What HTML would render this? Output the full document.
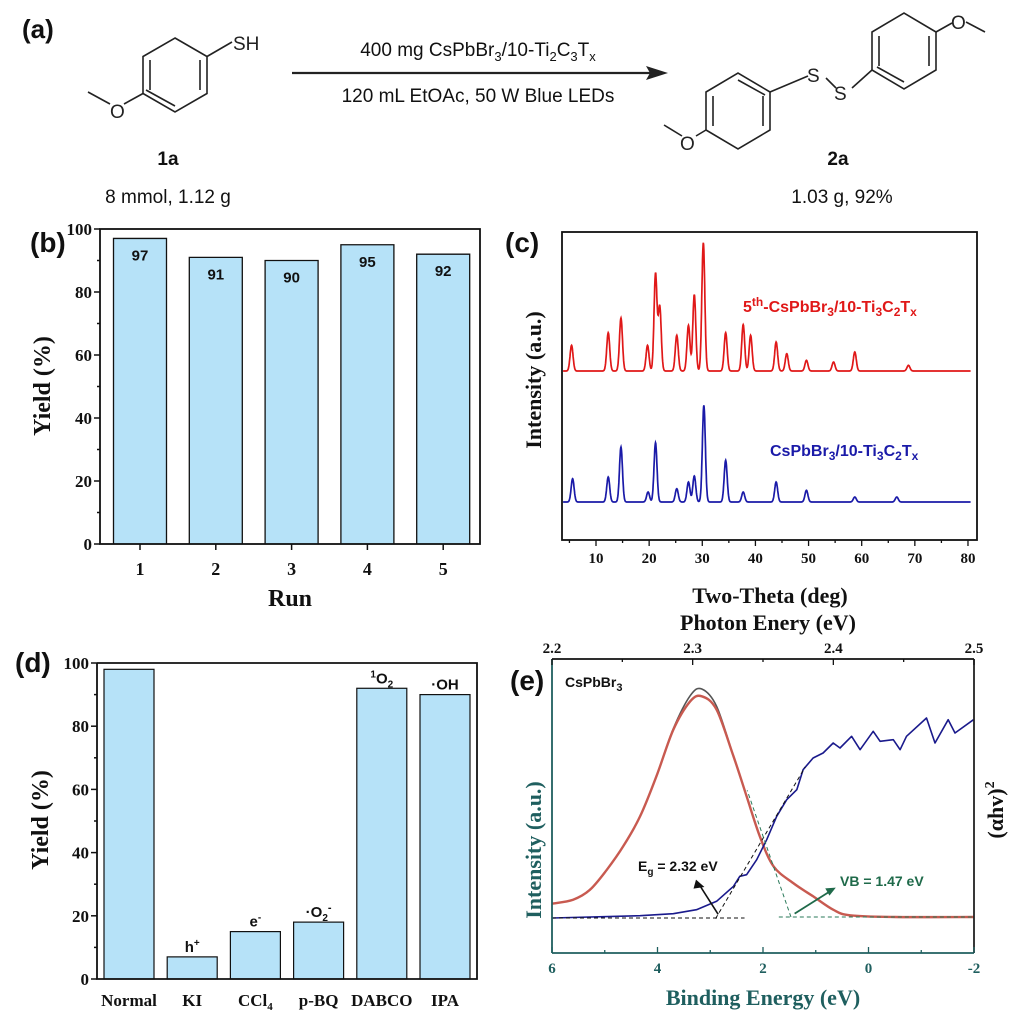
<!DOCTYPE html>
<html><head><meta charset="utf-8"><style>
html,body{margin:0;padding:0;background:#fff;}
svg{display:block;}
.sans{font-family:"Liberation Sans",sans-serif;}
.serif{font-family:"Liberation Serif",serif;font-weight:bold;}
</style></head><body>
<svg id="fig" width="1017" height="1021" viewBox="0 0 1017 1021" xmlns="http://www.w3.org/2000/svg">
<g stroke="#222" stroke-width="1.6" fill="none">
<text x="22" y="38" class="sans" font-size="26" font-weight="bold" fill="#111" stroke="none">(a)</text>
<polygon points="175,38 207,56.5 207,93.5 175,112 143,93.5 143,56.5"/>
<line x1="150" y1="60" x2="150" y2="90"/><line x1="200" y1="60" x2="200" y2="90"/><line x1="175" y1="106" x2="146" y2="90"/>
<line x1="207" y1="56.5" x2="232" y2="42"/>
<line x1="143" y1="93.5" x2="124" y2="104"/><line x1="110" y1="104" x2="88" y2="92"/>
<text x="233" y="50" class="sans" font-size="19" fill="#222" stroke="none">SH</text>
<text x="110" y="118" class="sans" font-size="19" fill="#222" stroke="none">O</text>
<text x="168" y="165" class="sans" font-size="19" font-weight="bold" fill="#111" stroke="none" text-anchor="middle">1a</text>
<text x="168" y="203" class="sans" font-size="19" fill="#111" stroke="none" text-anchor="middle">8 mmol, 1.12 g</text>
<line x1="292" y1="73" x2="652" y2="73" stroke-width="2.2"/>
<polygon points="668,73 646,66 650,73 646,80" fill="#222" stroke="none"/>
<text x="478" y="56" class="sans" font-size="19" fill="#111" stroke="none" text-anchor="middle">400 mg CsPbBr<tspan font-size="13" dy="5">3</tspan><tspan dy="-5">/10-Ti</tspan><tspan font-size="13" dy="5">2</tspan><tspan dy="-5">C</tspan><tspan font-size="13" dy="5">3</tspan><tspan dy="-5">T</tspan><tspan font-size="13" dy="5">x</tspan></text>
<text x="478" y="102" class="sans" font-size="19" fill="#111" stroke="none" text-anchor="middle">120 mL EtOAc, 50 W Blue LEDs</text>
<g>
<polygon points="770,92 770,130 738,149 706,130 706,92 738,73"/>
<line x1="763" y1="96" x2="763" y2="126"/><line x1="713" y1="96" x2="713" y2="126"/><line x1="738" y1="80" x2="765" y2="95"/>
<line x1="770" y1="92" x2="808" y2="76"/><line x1="826" y1="78" x2="836" y2="88"/><line x1="852" y1="88" x2="872" y2="70"/>
<polygon points="872,70 872,32 904,13 936,32 936,70 904,89"/>
<line x1="879" y1="36" x2="879" y2="66"/><line x1="929" y1="36" x2="929" y2="66"/><line x1="904" y1="82" x2="877" y2="67"/>
<line x1="936" y1="32" x2="952" y2="23"/><line x1="966" y1="22" x2="985" y2="32"/>
<line x1="706" y1="130" x2="696" y2="136"/><line x1="682" y1="136" x2="664" y2="125"/>
<text x="807" y="82" class="sans" font-size="19" fill="#222" stroke="none">S</text>
<text x="834" y="100" class="sans" font-size="19" fill="#222" stroke="none">S</text>
<text x="951" y="29" class="sans" font-size="19" fill="#222" stroke="none">O</text>
<text x="680" y="150" class="sans" font-size="19" fill="#222" stroke="none">O</text>
</g>
<text x="838" y="165" class="sans" font-size="19" font-weight="bold" fill="#111" stroke="none" text-anchor="middle">2a</text>
<text x="842" y="203" class="sans" font-size="19" fill="#111" stroke="none" text-anchor="middle">1.03 g, 92%</text>
</g>
</svg>
<script>
// ---------- data ----------
const runs = ['1','2','3','4','5'];
const runYields = [97, 91, 90, 95, 92];
const yieldTicks = [0, 20, 40, 60, 80, 100];
const scavengers = ['Normal','KI','CCl4','p-BQ','DABCO','IPA'];
const scavYields = [98, 7, 15, 18, 92, 90];
const scavSpecies = ['', 'h+', 'e-', '·O2-', '1O2', '·OH'];
const thetaTicks = [10, 20, 30, 40, 50, 60, 70, 80];
const redPeakPos = [5.4,12.3,14.7,19.7,21.2,22.0,25.2,27.4,28.5,30.2,34.4,37.7,39.1,43.9,45.9,49.6,54.7,58.7,68.8];
const redPeakH   = [77,115,159,77,292,192,107,137,229,385,115,139,107,87,52,32,27,57,17];
const bluePeakPos = [5.6,12.3,14.7,19.8,21.2,25.2,27.4,28.5,30.3,34.4,37.7,43.9,49.6,58.7,66.6];
const bluePeakH   = [70,75,165,30,178,40,60,78,290,125,30,60,35,15,15];
const redOffset = 507, blueOffset = 114;
const beTicks = [6, 4, 2, 0, -2];
const photonTicks = [2.2, 2.3, 2.4, 2.5];
const plBE  = [6.0,5.6,5.28,4.96,4.65,4.33,4.02,3.70,3.38,3.16,2.88,2.56,2.31,2.06,1.80,1.43,1.05,0.67,0.35,-0.5,-1.99];
const plI   = [40,52,82,142,212,302,422,562,647,662,622,482,362,242,152,102,62,22,5,0,0];
const fitBE = [6.0,5.6,5.28,4.96,4.65,4.33,4.02,3.70,3.38,3.16,2.88,2.56,2.31,2.06,1.80,1.43,1.05,0.67,0.35,-0.5,-1.99];
const fitI  = [40,52,82,142,212,302,422,565,664,684,632,482,362,242,152,102,62,22,5,0,0];
const absBE = [5.99,4.33,3.70,3.26,2.88,2.56,2.44,2.31,2.12,1.93,1.74,1.55,1.36,1.24,1.05,0.86,0.67,0.54,0.32,0.16,-0.09,-0.22,-0.47,-0.60,-0.72,-1.10,-1.26,-1.51,-1.64,-1.99];
const absI  = [-3,4,10,22,47,92,122,127,172,232,302,352,382,442,477,492,522,507,542,502,557,527,532,502,542,597,522,592,552,592];

const NS = 'http://www.w3.org/2000/svg';
const svg = document.getElementById('fig');
function add(tag, attrs, name, parent, interact) {
  const el = document.createElementNS(NS, tag);
  for (const k in attrs) el.setAttribute(k, attrs[k]);
  
  
  (parent || svg).appendChild(el);
  return el;
}
function txt(s, x, y, cls, size, name, extra, parent) {
  const a = Object.assign({x:x, y:y, class:cls, 'font-size':size, fill:'#111'}, extra || {});
  const t = add('text', a, name, parent);
  t.textContent = s;
  return t;
}
function smoothPath(pts){
  let d = 'M'+pts[0][0].toFixed(1)+','+pts[0][1].toFixed(1);
  for (let i=0;i<pts.length-1;i++){
    const p0=pts[Math.max(0,i-1)], p1=pts[i], p2=pts[i+1], p3=pts[Math.min(pts.length-1,i+2)];
    const c1=[p1[0]+(p2[0]-p0[0])/6, p1[1]+(p2[1]-p0[1])/6];
    const c2=[p2[0]-(p3[0]-p1[0])/6, p2[1]-(p3[1]-p1[1])/6];
    d += 'C'+c1[0].toFixed(1)+','+c1[1].toFixed(1)+' '+c2[0].toFixed(1)+','+c2[1].toFixed(1)+' '+p2[0].toFixed(1)+','+p2[1].toFixed(1);
  }
  return d;
}

// ---------- panel b ----------
(function(){
  const g = add('g', {}, 'panel-b-run-chart');
  const L=100,R=480,T=229,B=544;
  const y = v => B - (B-T)*v/100;
  const x = i => 140 + i*75.8;
  txt('(b)', 30, 252, 'sans', 28, 'panel-b-label', {'font-weight':'bold'}, g);
  runYields.forEach((v,i)=>{
    add('rect', {x:x(i)-26.5, y:y(v), width:53, height:B-y(v), fill:'#b6e2f8'}, 'bar-run-'+runs[i], g);
    add('path', {d:`M${x(i)-26.5},${B} V${y(v)} H${x(i)+26.5} V${B}`, fill:'none', stroke:'#111', 'stroke-width':1.3}, 'bar-outline-run-'+runs[i], g);
    txt(String(v), x(i), y(v)+22, 'sans', 15, 'bar-value-run-'+runs[i], {'font-weight':'bold','text-anchor':'middle'}, g);
    add('line', {x1:x(i), y1:B, x2:x(i), y2:B+6, stroke:'#111','stroke-width':1.5}, 'x-tick', g);
    txt(runs[i], x(i), B+31, 'serif', 18, 'x-tick-label', {'text-anchor':'middle'}, g);
  });
  for (let k=0;k<=10;k++){
    add('line', {x1:L, y1:y(k*10), x2:L-(k%2?3:6), y2:y(k*10), stroke:'#111','stroke-width':1.5}, 'y-tick', g);
  }
  yieldTicks.forEach(v=> txt(String(v), L-8, y(v)+6, 'serif', 17, 'y-tick-label', {'text-anchor':'end'}, g));
  add('rect', {x:L, y:T, width:R-L, height:B-T, fill:'none', stroke:'#111','stroke-width':1.8}, 'plot-frame-b', g);
  txt('Run', 290, 606, 'serif', 24, 'x-axis-title-b', {'text-anchor':'middle'}, g);
  txt('Yield (%)', 0, 0, 'serif', 24, 'y-axis-title-b', {'text-anchor':'middle', transform:'translate(50,386) rotate(-90)'}, g);
})();

// ---------- panel c ----------
(function(){
  const g = add('g', {}, 'panel-c-xrd-chart');
  const L=562,R=977,T=232,B=540;
  const x = d => 596 + (d-10)*5.314;
  const y = I => B - I/3;
  txt('(c)', 505, 252, 'sans', 28, 'panel-c-label', {'font-weight':'bold'}, g);
  function series(pos, h, off, color, name){
    let d='';
    for (let t=3.8; t<=80.5; t+=0.05){
      let I = off;
      for (let k=0;k<pos.length;k++){ const z=(t-pos[k])/0.28; I += h[k]*Math.exp(-0.5*z*z); }
      d += (d?'L':'M') + x(t).toFixed(1)+','+y(I).toFixed(1);
    }
    add('path', {d:d, fill:'none', stroke:color, 'stroke-width':1.7}, name, g);
  }
  series(redPeakPos, redPeakH, redOffset, '#e01818', 'xrd-line-5th-cycle');
  series(bluePeakPos, bluePeakH, blueOffset, '#1a1aa8', 'xrd-line-fresh');
  for (let d=5; d<=80; d+=5){
    add('line', {x1:x(d), y1:B, x2:x(d), y2:B+(d%10?3:6), stroke:'#111','stroke-width':1.3}, 'x-tick', g);
  }
  thetaTicks.forEach(d=> txt(String(d), x(d), B+23, 'serif', 15, 'x-tick-label', {'text-anchor':'middle'}, g));
  add('rect', {x:L, y:T, width:R-L, height:B-T, fill:'none', stroke:'#111','stroke-width':1.8}, 'plot-frame-c', g);
  txt('Two-Theta (deg)', 770, 603, 'serif', 22, 'x-axis-title-c', {'text-anchor':'middle'}, g);
  txt('Intensity (a.u.)', 0, 0, 'serif', 22, 'y-axis-title-c', {'text-anchor':'middle', transform:'translate(541,380) rotate(-90)'}, g);
  const l1 = txt('', 743, 312, 'sans', 16, 'legend-5th-cycle', {'font-weight':'bold', fill:'#e01818'}, g);
  l1.innerHTML = '5<tspan font-size="12" dy="-6">th</tspan><tspan dy="6">-CsPbBr</tspan><tspan font-size="12" dy="4">3</tspan><tspan dy="-4">/10-Ti</tspan><tspan font-size="12" dy="4">3</tspan><tspan dy="-4">C</tspan><tspan font-size="12" dy="4">2</tspan><tspan dy="-4">T</tspan><tspan font-size="12" dy="4">x</tspan>';
  const l2 = txt('', 770, 456, 'sans', 16, 'legend-fresh', {'font-weight':'bold', fill:'#1a1aa8'}, g);
  l2.innerHTML = 'CsPbBr<tspan font-size="12" dy="4">3</tspan><tspan dy="-4">/10-Ti</tspan><tspan font-size="12" dy="4">3</tspan><tspan dy="-4">C</tspan><tspan font-size="12" dy="4">2</tspan><tspan dy="-4">T</tspan><tspan font-size="12" dy="4">x</tspan>';
})();

// ---------- panel d ----------
(function(){
  const g = add('g', {}, 'panel-d-scavenger-chart');
  const L=97,R=477,T=663,B=979;
  const y = v => B - (B-T)*v/100;
  const x = i => 129 + i*63.2;
  txt('(d)', 15, 672, 'sans', 28, 'panel-d-label', {'font-weight':'bold'}, g);
  scavYields.forEach((v,i)=>{
    add('rect', {x:x(i)-25, y:y(v), width:50, height:B-y(v), fill:'#b6e2f8', stroke:'#111','stroke-width':1.2}, 'bar-'+scavengers[i], g);
    if (scavSpecies[i]) {
      const s = scavSpecies[i];
      const t = txt('', x(i), y(v)-5, 'sans', 15, 'species-label-'+scavengers[i], {'font-weight':'bold','text-anchor':'middle'}, g);
      if (s==='h+') t.innerHTML='h<tspan font-size="10" dy="-6">+</tspan>';
      else if (s==='e-') t.innerHTML='e<tspan font-size="10" dy="-6">-</tspan>';
      else if (s==='·O2-') t.innerHTML='·O<tspan font-size="10" dy="4">2</tspan><tspan font-size="11" dy="-10">-</tspan>';
      else if (s==='1O2') t.innerHTML='<tspan font-size="10" dy="-6">1</tspan><tspan dy="6">O</tspan><tspan font-size="10" dy="4">2</tspan>';
      else t.textContent = s;
    }
    const lab = txt('', x(i), B+27, 'serif', 17, 'x-tick-label', {'text-anchor':'middle'}, g);
    if (scavengers[i]==='CCl4') lab.innerHTML='CCl<tspan font-size="11" dy="4">4</tspan>';
    else lab.textContent = scavengers[i];
  });
  for (let k=0;k<=10;k++){
    add('line', {x1:L, y1:y(k*10), x2:L-(k%2?3:6), y2:y(k*10), stroke:'#111','stroke-width':1.5}, 'y-tick', g);
  }
  yieldTicks.forEach(v=> txt(String(v), L-8, y(v)+6, 'serif', 17, 'y-tick-label', {'text-anchor':'end'}, g));
  add('path', {d:`M${L},${T} V${B} H${R} V${T} H${L}`, fill:'none', stroke:'#111','stroke-width':1.8}, 'plot-frame-d', g);
  txt('Yield (%)', 0, 0, 'serif', 24, 'y-axis-title-d', {'text-anchor':'middle', transform:'translate(48,820) rotate(-90)'}, g);
})();

// ---------- panel e ----------
(function(){
  const g = add('g', {}, 'panel-e-band-chart');
  const L=552,R=974,T=659,B=953;
  const teal='#1f5f5f';
  const x = be => L + (6-be)*52.75;
  const xp = pe => L + (pe-2.2)/0.3*(R-L);
  const y = I => 917 - I/3;
  txt('(e)', 510, 690, 'sans', 28, 'panel-e-label', {'font-weight':'bold'}, g);
  function line(bx, iy, color, w, name, smooth){
    const pts = bx.map((b,k)=>[x(b), y(iy[k])]);
    let d;
    if (smooth) d = smoothPath(pts);
    else { d=''; pts.forEach((p,k)=>{ d += (k?'L':'M') + p[0].toFixed(1)+','+p[1].toFixed(1); }); }
    add('path', {d:d, fill:'none', stroke:color, 'stroke-width':w, 'stroke-linejoin':'round'}, name, g);
  }
  line(fitBE, fitI, '#555', 1.6, 'pl-fit-line', true);
  line(plBE, plI, '#c85a50', 2.4, 'pl-spectrum-line', true);
  line(absBE, absI, '#1a1a8c', 1.6, 'absorption-line', false);
  add('line', {x1:x(6), y1:y(-3), x2:x(2.35), y2:y(-3), stroke:'#111','stroke-width':1,'stroke-dasharray':'4,3'}, 'eg-baseline', g);
  add('line', {x1:x(2.9), y1:y(-5), x2:x(1.2), y2:y(450), stroke:'#111','stroke-width':1,'stroke-dasharray':'4,3'}, 'eg-tangent', g);
  add('line', {x1:x(1.7), y1:y(0), x2:x(-2), y2:y(0), stroke:'#2a7a5a','stroke-width':1,'stroke-dasharray':'4,3'}, 'vb-baseline', g);
  add('line', {x1:x(1.47), y1:y(0), x2:x(2.3), y2:y(380), stroke:'#2a7a5a','stroke-width':1,'stroke-dasharray':'4,3'}, 'vb-tangent', g);
  add('line', {x1:x(2.85), y1:y(8), x2:x(3.2), y2:y(95), stroke:'#111','stroke-width':1.6}, 'eg-arrow', g);
  add('polygon', {points:`${x(3.27)},${y(112)} ${x(3.26)-3},${y(85)} ${x(3.11)},${y(90)}`, fill:'#111'}, 'eg-arrowhead', g);
  add('line', {x1:x(1.4), y1:y(10), x2:x(0.72), y2:y(78), stroke:'#1f6a4a','stroke-width':1.8}, 'vb-arrow', g);
  add('polygon', {points:`${x(0.62)},${y(88)} ${x(0.74)},${y(64)} ${x(0.82)},${y(86)}`, fill:'#1f6a4a'}, 'vb-arrowhead', g);
  const eg = txt('', 638, 871, 'sans', 14, 'eg-annotation', {'font-weight':'bold'}, g);
  eg.innerHTML = 'E<tspan font-size="10" dy="4">g</tspan><tspan dy="-4"> = 2.32 eV</tspan>';
  txt('VB = 1.47 eV', 840, 886, 'sans', 14, 'vb-annotation', {'font-weight':'bold', fill:'#1f6a4a'}, g);
  const cs = txt('', 565, 687, 'sans', 14, 'sample-label', {'font-weight':'bold'}, g);
  cs.innerHTML = 'CsPbBr<tspan font-size="11" dy="4">3</tspan>';
  add('line', {x1:L, y1:B, x2:R, y2:B, stroke:teal,'stroke-width':1.8}, 'x-axis-bottom', g);
  add('line', {x1:L, y1:T, x2:L, y2:B, stroke:teal,'stroke-width':1.8}, 'y-axis-left', g);
  add('line', {x1:R, y1:T, x2:R, y2:B, stroke:'#222','stroke-width':1.8}, 'y-axis-right', g);
  add('line', {x1:L, y1:T, x2:R, y2:T, stroke:'#111','stroke-width':1.8}, 'x-axis-top', g);
  for (let b=6;b>=-2;b--){
    add('line', {x1:x(b), y1:B, x2:x(b), y2:B-(b%2?3:6), stroke:teal,'stroke-width':1.3}, 'x-tick-bottom', g);
  }
  beTicks.forEach(b=> txt(String(b), x(b), B+20, 'serif', 15, 'x-tick-label-bottom', {'text-anchor':'middle', fill:teal}, g));
  for (let k=0;k<=6;k++){
    add('line', {x1:xp(2.2+k*0.05), y1:T, x2:xp(2.2+k*0.05), y2:T+(k%2?3:6), stroke:'#111','stroke-width':1.3}, 'x-tick-top', g);
  }
  photonTicks.forEach(p=> txt(p.toFixed(1), xp(p), T-6, 'serif', 15, 'x-tick-label-top', {'text-anchor':'middle'}, g));
  txt('Binding Energy (eV)', 763, 1005, 'serif', 22, 'x-axis-title-bottom', {'text-anchor':'middle', fill:teal}, g);
  txt('Photon Enery (eV)', 768, 630, 'serif', 22, 'x-axis-title-top', {'text-anchor':'middle'}, g);
  txt('Intensity (a.u.)', 0, 0, 'serif', 22, 'y-axis-title-left', {'text-anchor':'middle', fill:teal, transform:'translate(541,850) rotate(-90)'}, g);
  const ry = txt('', 0, 0, 'serif', 22, 'y-axis-title-right', {'text-anchor':'middle', transform:'translate(1003,810) rotate(-90)'}, g);
  ry.innerHTML = '(αhv)<tspan font-size="14" dy="-9">2</tspan>';
})();
</script>
</body></html>
